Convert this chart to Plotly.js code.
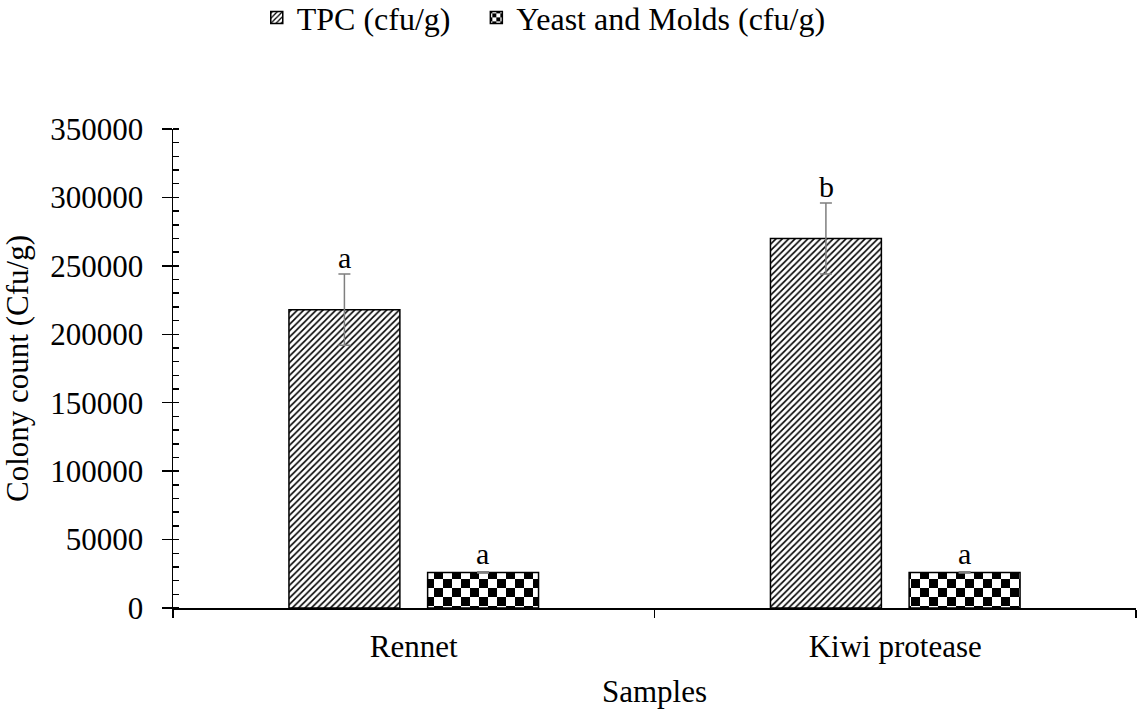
<!DOCTYPE html>
<html>
<head>
<meta charset="utf-8">
<script src="https://cdn.plot.ly/plotly-3.0.1.min.js"></script>
<style>html,body{margin:0;padding:0;background:#fff;}#chart{width:1138px;height:709px;}</style>
</head>
<body>
<div id="chart"></div>
<script>
const categories = ["Rennet", "Kiwi protease"];
const seriesNames = ["TPC (cfu/g)", "Yeast and Molds (cfu/g)"];
const tpcValues = [218000, 270000];
const tpcErrors = [26000, 26000];
const ymValues = [26000, 26000];
const ymErrors = [400, 400];
const tpcLetters = ["a", "b"];
const ymLetters = ["a", "a"];
const yTickVals = [0, 50000, 100000, 150000, 200000, 250000, 300000, 350000];

const FONT = 'Liberation Serif, Times New Roman, serif';
const FS = 31;

const traces = [
  {
    type: 'bar', name: seriesNames[0], x: categories, y: tpcValues, legend: 'legend',
    marker: {color: '#ffffff', line: {color: '#000000', width: 1.5},
      pattern: {shape: '/', fgcolor: '#000000', bgcolor: '#ffffff', size: 4.5, solidity: 0.35}},
    error_y: {type: 'data', array: tpcErrors, visible: true, color: '#7f7f7f', thickness: 1.5, width: 6}
  },
  {
    type: 'bar', name: seriesNames[1], x: categories, y: ymValues, legend: 'legend2',
    marker: {color: '#ffffff', line: {color: '#000000', width: 1.5},
      pattern: {shape: 'x', fgcolor: '#000000', bgcolor: '#ffffff', size: 9, solidity: 0.5}},
    error_y: {type: 'data', array: ymErrors, visible: true, color: '#7f7f7f', thickness: 1.5, width: 6}
  }
];

const annotations = [];
categories.forEach((c, i) => {
  annotations.push({x: c, y: tpcValues[i] + tpcErrors[i], xref: 'x', yref: 'y', text: tpcLetters[i],
    showarrow: false, yanchor: 'bottom', xshift: -69, yshift: -2, font: {family: FONT, size: 30, color: '#000'}});
  annotations.push({x: c, y: ymValues[i] + ymErrors[i], xref: 'x', yref: 'y', text: ymLetters[i],
    showarrow: false, yanchor: 'bottom', xshift: 69, yshift: 0, font: {family: FONT, size: 30, color: '#000'}});
});

const legendCommon = {orientation: 'h', xanchor: 'left', y: 1.29, yanchor: 'top',
  font: {family: FONT, size: 32, color: '#000'}, bgcolor: 'rgba(0,0,0,0)'};

const layout = {
  width: 1138, height: 709,
  margin: {l: 173, r: 2, t: 129, b: 101, pad: 0, autoexpand: false},
  paper_bgcolor: '#ffffff', plot_bgcolor: '#ffffff',
  font: {family: FONT, size: FS, color: '#000000'},
  barmode: 'group', bargap: 0.424, bargroupgap: 0.2,
  showlegend: true,
  legend: Object.assign({}, legendCommon, {x: 0.087}),
  legend2: Object.assign({}, legendCommon, {x: 0.315}),
  xaxis: {
    type: 'category', range: [-0.5, 1.5], showline: true, linecolor: '#000', linewidth: 1.5,
    ticks: 'outside', tickson: 'boundaries', ticklen: 8, tickwidth: 1.5, tickcolor: '#000',
    ticklabelstandoff: 10,
    showgrid: false, zeroline: false, tickfont: {family: FONT, size: FS},
    title: {text: 'Samples', font: {family: FONT, size: FS}, standoff: 20}
  },
  xaxis2: {
    type: 'linear', overlaying: 'x', anchor: 'y', range: [-0.5, 1.5], tickvals: [0, 1],
    ticks: 'inside', ticklen: 6, tickwidth: 1.5, tickcolor: '#000', showticklabels: false,
    showline: false, showgrid: false, zeroline: false
  },
  yaxis: {
    range: [0, 350000], tickvals: yTickVals, tickformat: 'd', showline: true, linecolor: '#000', linewidth: 1.5,
    ticks: 'outside', ticklen: 10, tickwidth: 1.5, tickcolor: '#000', showgrid: false, zeroline: false,
    ticklabelstandoff: 12,
    tickfont: {family: FONT, size: FS},
    minor: {dtick: 10000, ticks: 'inside', ticklen: 6, tickwidth: 1.5, tickcolor: '#000', showgrid: false},
    title: {text: 'Colony count (Cfu/g)', font: {family: FONT, size: FS}, standoff: 12}
  },
  yaxis2: {
    overlaying: 'y', anchor: 'x', side: 'left', range: [0, 350000], tickvals: yTickVals,
    ticks: 'inside', ticklen: 6, tickwidth: 1.5, tickcolor: '#000', showticklabels: false,
    showline: false, showgrid: false, zeroline: false
  },
  annotations: annotations
};

Plotly.newPlot('chart', traces, layout, {displayModeBar: false, staticPlot: true}).then(function (gd) {
  const svgNS = 'http://www.w3.org/2000/svg';
  const svg = gd.querySelector('svg.main-svg');
  let defs = svg.querySelector('defs');
  if (!defs) { defs = document.createElementNS(svgNS, 'defs'); svg.insertBefore(defs, svg.firstChild); }
  function makeChecker(id, s) {
    const p = document.createElementNS(svgNS, 'pattern');
    p.setAttribute('id', id); p.setAttribute('patternUnits', 'userSpaceOnUse');
    p.setAttribute('width', 2 * s); p.setAttribute('height', 2 * s);
    const bg = document.createElementNS(svgNS, 'rect');
    bg.setAttribute('width', 2 * s); bg.setAttribute('height', 2 * s); bg.setAttribute('fill', '#fff');
    const r1 = document.createElementNS(svgNS, 'rect');
    r1.setAttribute('width', s); r1.setAttribute('height', s); r1.setAttribute('fill', '#000');
    const r2 = document.createElementNS(svgNS, 'rect');
    r2.setAttribute('x', s); r2.setAttribute('y', s); r2.setAttribute('width', s); r2.setAttribute('height', s); r2.setAttribute('fill', '#000');
    p.appendChild(bg); p.appendChild(r1); p.appendChild(r2);
    defs.appendChild(p);
  }
  makeChecker('checkerBig', 9);
  makeChecker('checkerSmall', 4);
  const barTraces = gd.querySelectorAll('.barlayer .trace');
  if (barTraces[1]) {
    barTraces[1].querySelectorAll('.point path').forEach(function (p) { p.style.fill = 'url(#checkerBig)'; });
  }
  const leg2 = gd.querySelector('.legend2');
  const legPaths = leg2 ? leg2.querySelectorAll('.legendpoints path') : [];
  legPaths.forEach(function (p) { p.style.fill = 'url(#checkerSmall)'; });
});
</script>
</body>
</html>
